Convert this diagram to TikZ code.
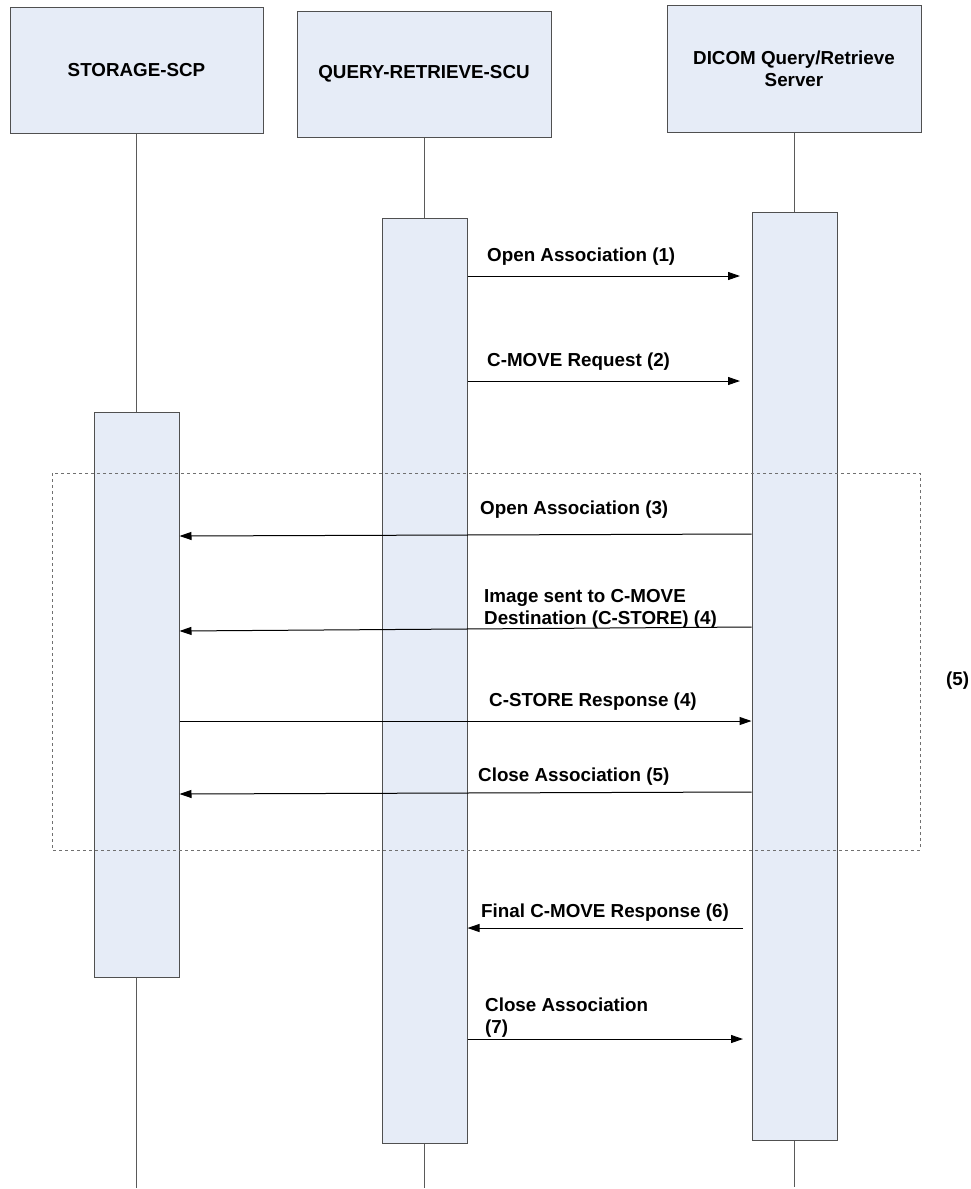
\documentclass[tikz,border=0pt]{standalone}
\usepackage{fontspec}
\setmainfont{Liberation Sans}
\usetikzlibrary{arrows.meta}
\definecolor{boxfill}{HTML}{E6ECF7}
\definecolor{boxline}{HTML}{505050}
\definecolor{lifeline}{HTML}{5A5A5A}
\definecolor{framegray}{HTML}{707070}
\begin{document}
\begin{tikzpicture}[x=1pt,y=-1pt,
  lane/.style={draw=boxline, fill=boxfill, line width=1pt, align=center, inner sep=0pt, font=\bfseries\fontsize{18.8}{22}\selectfont},
  act/.style={draw=boxline, fill=boxfill, line width=1pt, minimum width=85pt, inner sep=0pt},
  life/.style={draw=lifeline, line width=1pt},
  msg/.style={draw=black, line width=1pt, -{Triangle[length=12pt,width=8pt]}},
  lbl/.style={anchor=west, inner sep=0pt, align=left, font=\bfseries\fontsize{18.8}{22}\selectfont}]
\useasboundingbox (0,0) rectangle (971,1189);
% header boxes
\node[lane, minimum width=253pt, minimum height=126pt] (scp) at (136.5,70) {STORAGE-SCP};
\node[lane, minimum width=254pt, minimum height=126pt] (scu) at (424,74) {QUERY-RETRIEVE-SCU};
\node[lane, minimum width=254pt, minimum height=127pt] (srv) at (794,68.5) {DICOM Query/Retrieve\\Server};
% life lines
\coordinate (scpEnd) at (136.5,1188);
\coordinate (scuEnd) at (424,1188);
\coordinate (srvEnd) at (794,1187);
\draw[life] (scp.south) -- (scpEnd);
\draw[life] (scu.south) -- (scuEnd);
\draw[life] (srv.south) -- (srvEnd);
% activation bars
\node[act, minimum height=565pt] (scpAct) at (136.5,694.5) {};
\node[act, minimum height=925pt] (scuAct) at (424.5,680.5) {};
\node[act, minimum height=928pt] (srvAct) at (794.5,676) {};
% loop frame
\draw[framegray, dashed, line width=1pt] (52,473) rectangle (920,850);
\node[lbl] (loopLbl) at (946,681) {(5)};
% messages
\coordinate (m1) at (740,276);
\coordinate (m2) at (740,381);
\coordinate (m7) at (743,928);
\coordinate (m8) at (743,1039);
\draw[msg] (scuAct.east |- m1) -- (m1);
\node[lbl] at (487,257) {Open Association (1)};
\draw[msg] (scuAct.east |- m2) -- (m2);
\node[lbl] at (487,362) {C-MOVE Request (2)};
\draw[msg] (srvAct.west |- 0,534) -- (scpAct.east |- 0,536);
\node[lbl] at (480,510) {Open Association (3)};
\draw[msg] (srvAct.west |- 0,627) -- (scpAct.east |- 0,631);
\node[lbl] at (484,609) {Image sent to C-MOVE\\Destination (C-STORE) (4)};
\draw[msg] (scpAct.east |- 0,721) -- (srvAct.west |- 0,721);
\node[lbl] at (489,702) {C-STORE Response (4)};
\draw[msg] (srvAct.west |- 0,792) -- (scpAct.east |- 0,794);
\node[lbl] at (478,777) {Close Association (5)};
\draw[msg] (m7) -- (scuAct.east |- m7);
\node[lbl] at (481,913) {Final C-MOVE Response (6)};
\draw[msg] (scuAct.east |- m8) -- (m8);
\node[lbl] at (485,1018) {Close Association\\(7)};
\end{tikzpicture}
\end{document}
